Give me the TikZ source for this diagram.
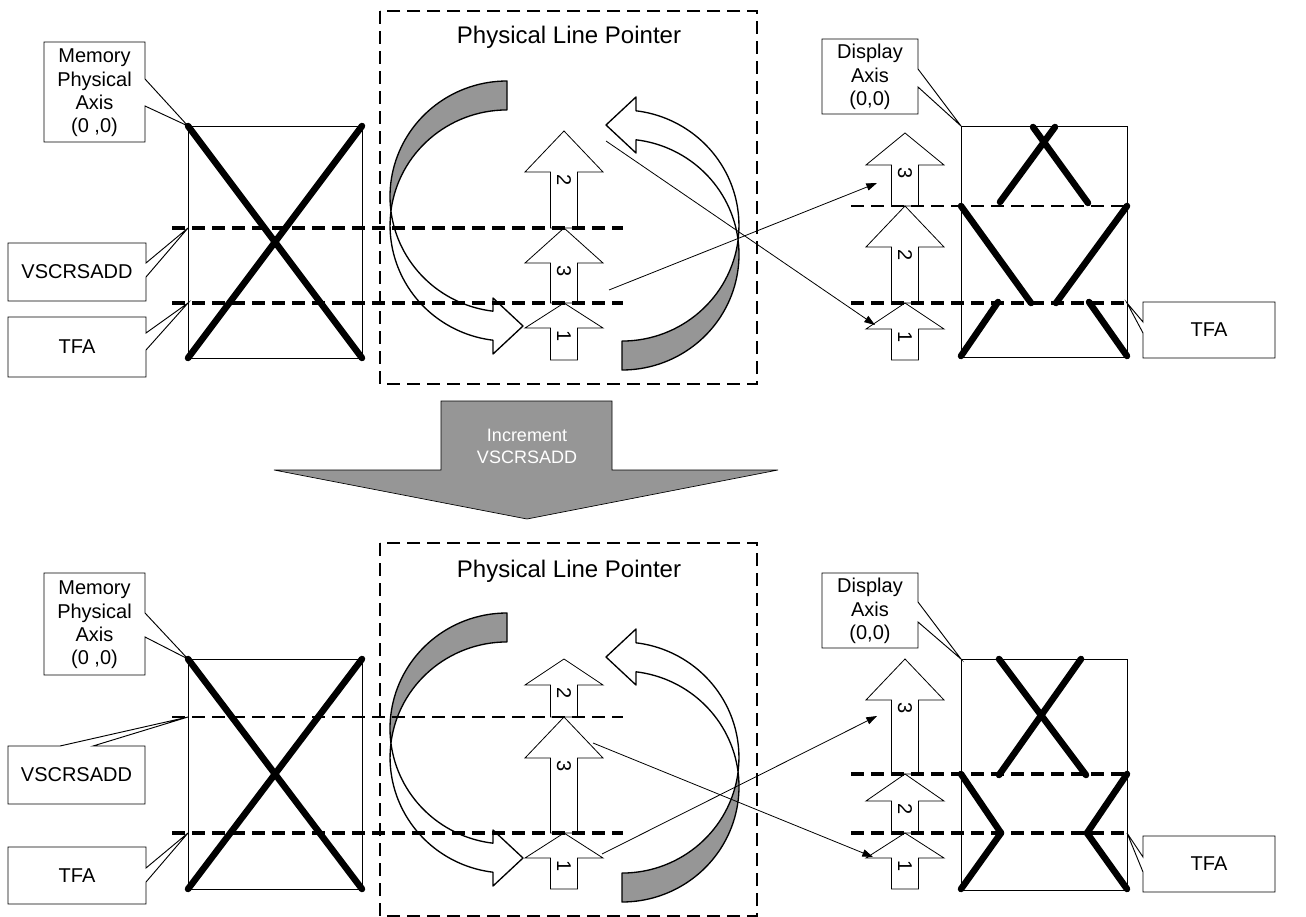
\documentclass[tikz,border=0pt]{standalone}
\usepackage{fontspec}
\setmainfont{Liberation Sans}
\usetikzlibrary{arrows.meta}
\definecolor{agray}{RGB}{150,150,150}
\tikzset{
  callout/.style={draw=black, line width=0.7pt},
  lbl/.style={align=center, font=\fontsize{15}{17.5}\selectfont, inner sep=0pt},
  title/.style={anchor=base, font=\fontsize{18}{20}\selectfont, inner sep=0pt},
  thinrect/.style={draw=black, line width=0.7pt},
  bigx/.style={line width=4.9pt, line cap=round},
  dthick/.style={line width=2.6pt, dash pattern=on 9.5pt off 5.5pt},
  dthin/.style={line width=1.4pt, dash pattern=on 9.5pt off 5.5pt},
  dbox/.style={line width=2.2pt, dash pattern=on 9.5pt off 5.5pt},
  blk/.style={draw=black, line width=0.6pt, fill=white},
  digit/.style={rotate=-90, anchor=west, font=\fontsize{15}{15}\selectfont, inner sep=1.5pt},
  conn/.style={line width=0.6pt, -{Triangle[length=8pt,width=5.5pt]}},
  curv/.style={draw=black, line width=1pt, line join=round},
}
\newcommand{\uparr}[6]{%
  \draw[blk] (#1,#2) -- ({#1+39},#3) -- ({#1+13.5},#3) -- ({#1+13.5},#4) -- ({#1-13.5},#4) -- ({#1-13.5},#3) -- ({#1-39},#3) -- cycle;
  \node[digit] (#6) at (#1,#3) {#5};}
\newcommand{\curvedhalf}{%
  \filldraw[curv, fill=agray] (507,81) arc[start angle=270, end angle=172.8, x radius=117, y radius=115.5]
     arc[start angle=187.2, end angle=270, x radius=117, y radius=115.5] -- cycle;
  \filldraw[curv, fill=white] (390.92,211) arc[start angle=172.8, end angle=96.9, x radius=117, y radius=115.5]
     -- (493,298) -- (523,326) -- (493,354) -- (493,340.2)
     arc[start angle=96.9, end angle=187.2, x radius=117, y radius=115.5] -- cycle;}
\newcommand{\pointerbox}[1]{%
  \begin{scope}[shift={(0,#1)}]
    \curvedhalf
    \begin{scope}[rotate around={180:(564.5,225.5)}]
      \curvedhalf
    \end{scope}
    \draw[dbox] (380,11) rectangle (757,384);
  \end{scope}}
\begin{document}
\begin{tikzpicture}[x=0.75pt, y=-0.75pt]
\useasboundingbox (0,0) rectangle (1306,917);

% ================= TOP =================
\draw[thinrect] (188,126) rectangle (362,358);
\draw[bigx] (188,126) -- (362,358);
\draw[bigx] (362,126) -- (188,358);
\pointerbox{0}
\node[title] (plp1) at (569,44) {Physical Line Pointer};
\uparr{564}{131}{172}{228}{2}{ca2}
\uparr{564}{228}{263}{303}{3}{ca3}
\uparr{564}{303}{328}{360}{1}{ca1}
\draw[dthick] (172,228) -- (623,228);
\draw[dthick] (172,303) -- (623,303);
\draw[callout] (44,42) -- (145,42) -- (145,79) -- (188,126) -- (145,106) -- (145,142) -- (44,142) -- cycle;
\node[lbl] (mem1) at (94.5,93) {Memory\\Physical\\Axis\\(0 ,0)};
\draw[callout] (8,243) -- (146,243) -- (146,263) -- (188,228) -- (146,277) -- (146,301) -- (8,301) -- cycle;
\node[lbl] (vs1) at (77,272) {VSCRSADD};
\draw[callout] (8,317) -- (146,317) -- (146,333) -- (188,303) -- (146,350) -- (146,377) -- (8,377) -- cycle;
\node[lbl] (tfa1) at (77,347) {TFA};
\draw[thinrect] (961,126) rectangle (1127,357);
\draw[bigx] (1033,127) -- (1088,203);
\draw[bigx] (1055,127) -- (1000,202);
\draw[bigx] (961,206) -- (1031,303);
\draw[bigx] (1127,206) -- (1056,303);
\draw[bigx] (998,302) -- (961,356);
\draw[bigx] (1089,302) -- (1127,356);
\uparr{905}{133}{165}{206}{3}{ra3}
\uparr{905}{206}{247}{303}{2}{ra2}
\uparr{905}{303}{329}{360}{1}{ra1}
\draw[dthin] (851,206) -- (1127,206);
\draw[dthick] (851,303) -- (1127,303);
\draw[callout] (822,39) -- (918,39) -- (918,69) -- (961,126) -- (918,87) -- (918,114) -- (822,114) -- cycle;
\node[lbl] (dis1) at (870,77) {Display\\Axis\\(0,0)};
\draw[callout] (1143,302) -- (1275,302) -- (1275,358) -- (1143,358) -- (1143,333) -- (1127,303) -- (1143,322) -- cycle;
\node[lbl] (tfa2) at (1209,330) {TFA};
\coordinate (s1) at (609,290); \coordinate (e1) at (877,183);
\coordinate (s2) at (606,141); \coordinate (e2) at (875,325);
\draw[conn] (s1) -- (e1);
\draw[conn] (s2) -- (e2);

% ================= MIDDLE ARROW =================
\filldraw[fill=agray, draw=black, line width=0.5pt] (441,401) -- (612,401) -- (612,470) -- (778,470) -- (527,519) -- (274,470) -- (441,470) -- cycle;
\node[align=center, text=white, font=\fontsize{13.5}{16.5}\selectfont, inner sep=0pt] (inc) at (527,446) {Increment\\VSCRSADD};

% ================= BOTTOM =================
\draw[thinrect] (188,659) rectangle (362,889);
\draw[bigx] (188,659) -- (362,889);
\draw[bigx] (362,659) -- (188,889);
\pointerbox{532}
\node[title] (plp2) at (569,577) {Physical Line Pointer};
\uparr{564}{659}{685}{717}{2}{cb2}
\uparr{564}{717}{758}{833}{3}{cb3}
\uparr{564}{833}{858}{889}{1}{cb1}
\draw[dthin] (172,717) -- (623,717);
\draw[dthick] (172,833) -- (623,833);
\draw[callout] (44,573) -- (145,573) -- (145,613) -- (188,659) -- (145,637) -- (145,675) -- (44,675) -- cycle;
\node[lbl] (mem2) at (94.5,625) {Memory\\Physical\\Axis\\(0 ,0)};
\draw[callout] (8,746) -- (60,746) -- (188,717) -- (93,746) -- (145,746) -- (145,804) -- (8,804) -- cycle;
\node[lbl] (vs2) at (76.5,775) {VSCRSADD};
\draw[callout] (8,847) -- (146,847) -- (146,868) -- (188,833) -- (146,882) -- (146,904) -- (8,904) -- cycle;
\node[lbl] (tfa3) at (77,876) {TFA};
\draw[thinrect] (961,659) rectangle (1127,890);
\draw[bigx] (999,659) -- (1086,775);
\draw[bigx] (1081,659) -- (999,775);
\draw[bigx] (961,774) -- (1001,833);
\draw[bigx] (1127,774) -- (1087,833);
\draw[bigx] (1001,833) -- (961,889);
\draw[bigx] (1087,833) -- (1127,889);
\uparr{905}{659}{700}{774}{3}{rb3}
\uparr{905}{774}{801}{833}{2}{rb2}
\uparr{905}{833}{858}{889}{1}{rb1}
\draw[dthick] (851,774) -- (1127,774);
\draw[dthick] (851,833) -- (1127,833);
\draw[callout] (822,573) -- (918,573) -- (918,602) -- (961,659) -- (918,622) -- (918,648) -- (822,648) -- cycle;
\node[lbl] (dis2) at (870,611) {Display\\Axis\\(0,0)};
\draw[callout] (1143,836) -- (1275,836) -- (1275,892) -- (1143,892) -- (1143,872) -- (1127,833) -- (1143,857) -- cycle;
\node[lbl] (tfa4) at (1209,864) {TFA};
\coordinate (s3) at (602,854); \coordinate (e3) at (877,716);
\coordinate (s4) at (593,743); \coordinate (e4) at (873,857);
\draw[conn] (s3) -- (e3);
\draw[conn] (s4) -- (e4);
\end{tikzpicture}
\end{document}
